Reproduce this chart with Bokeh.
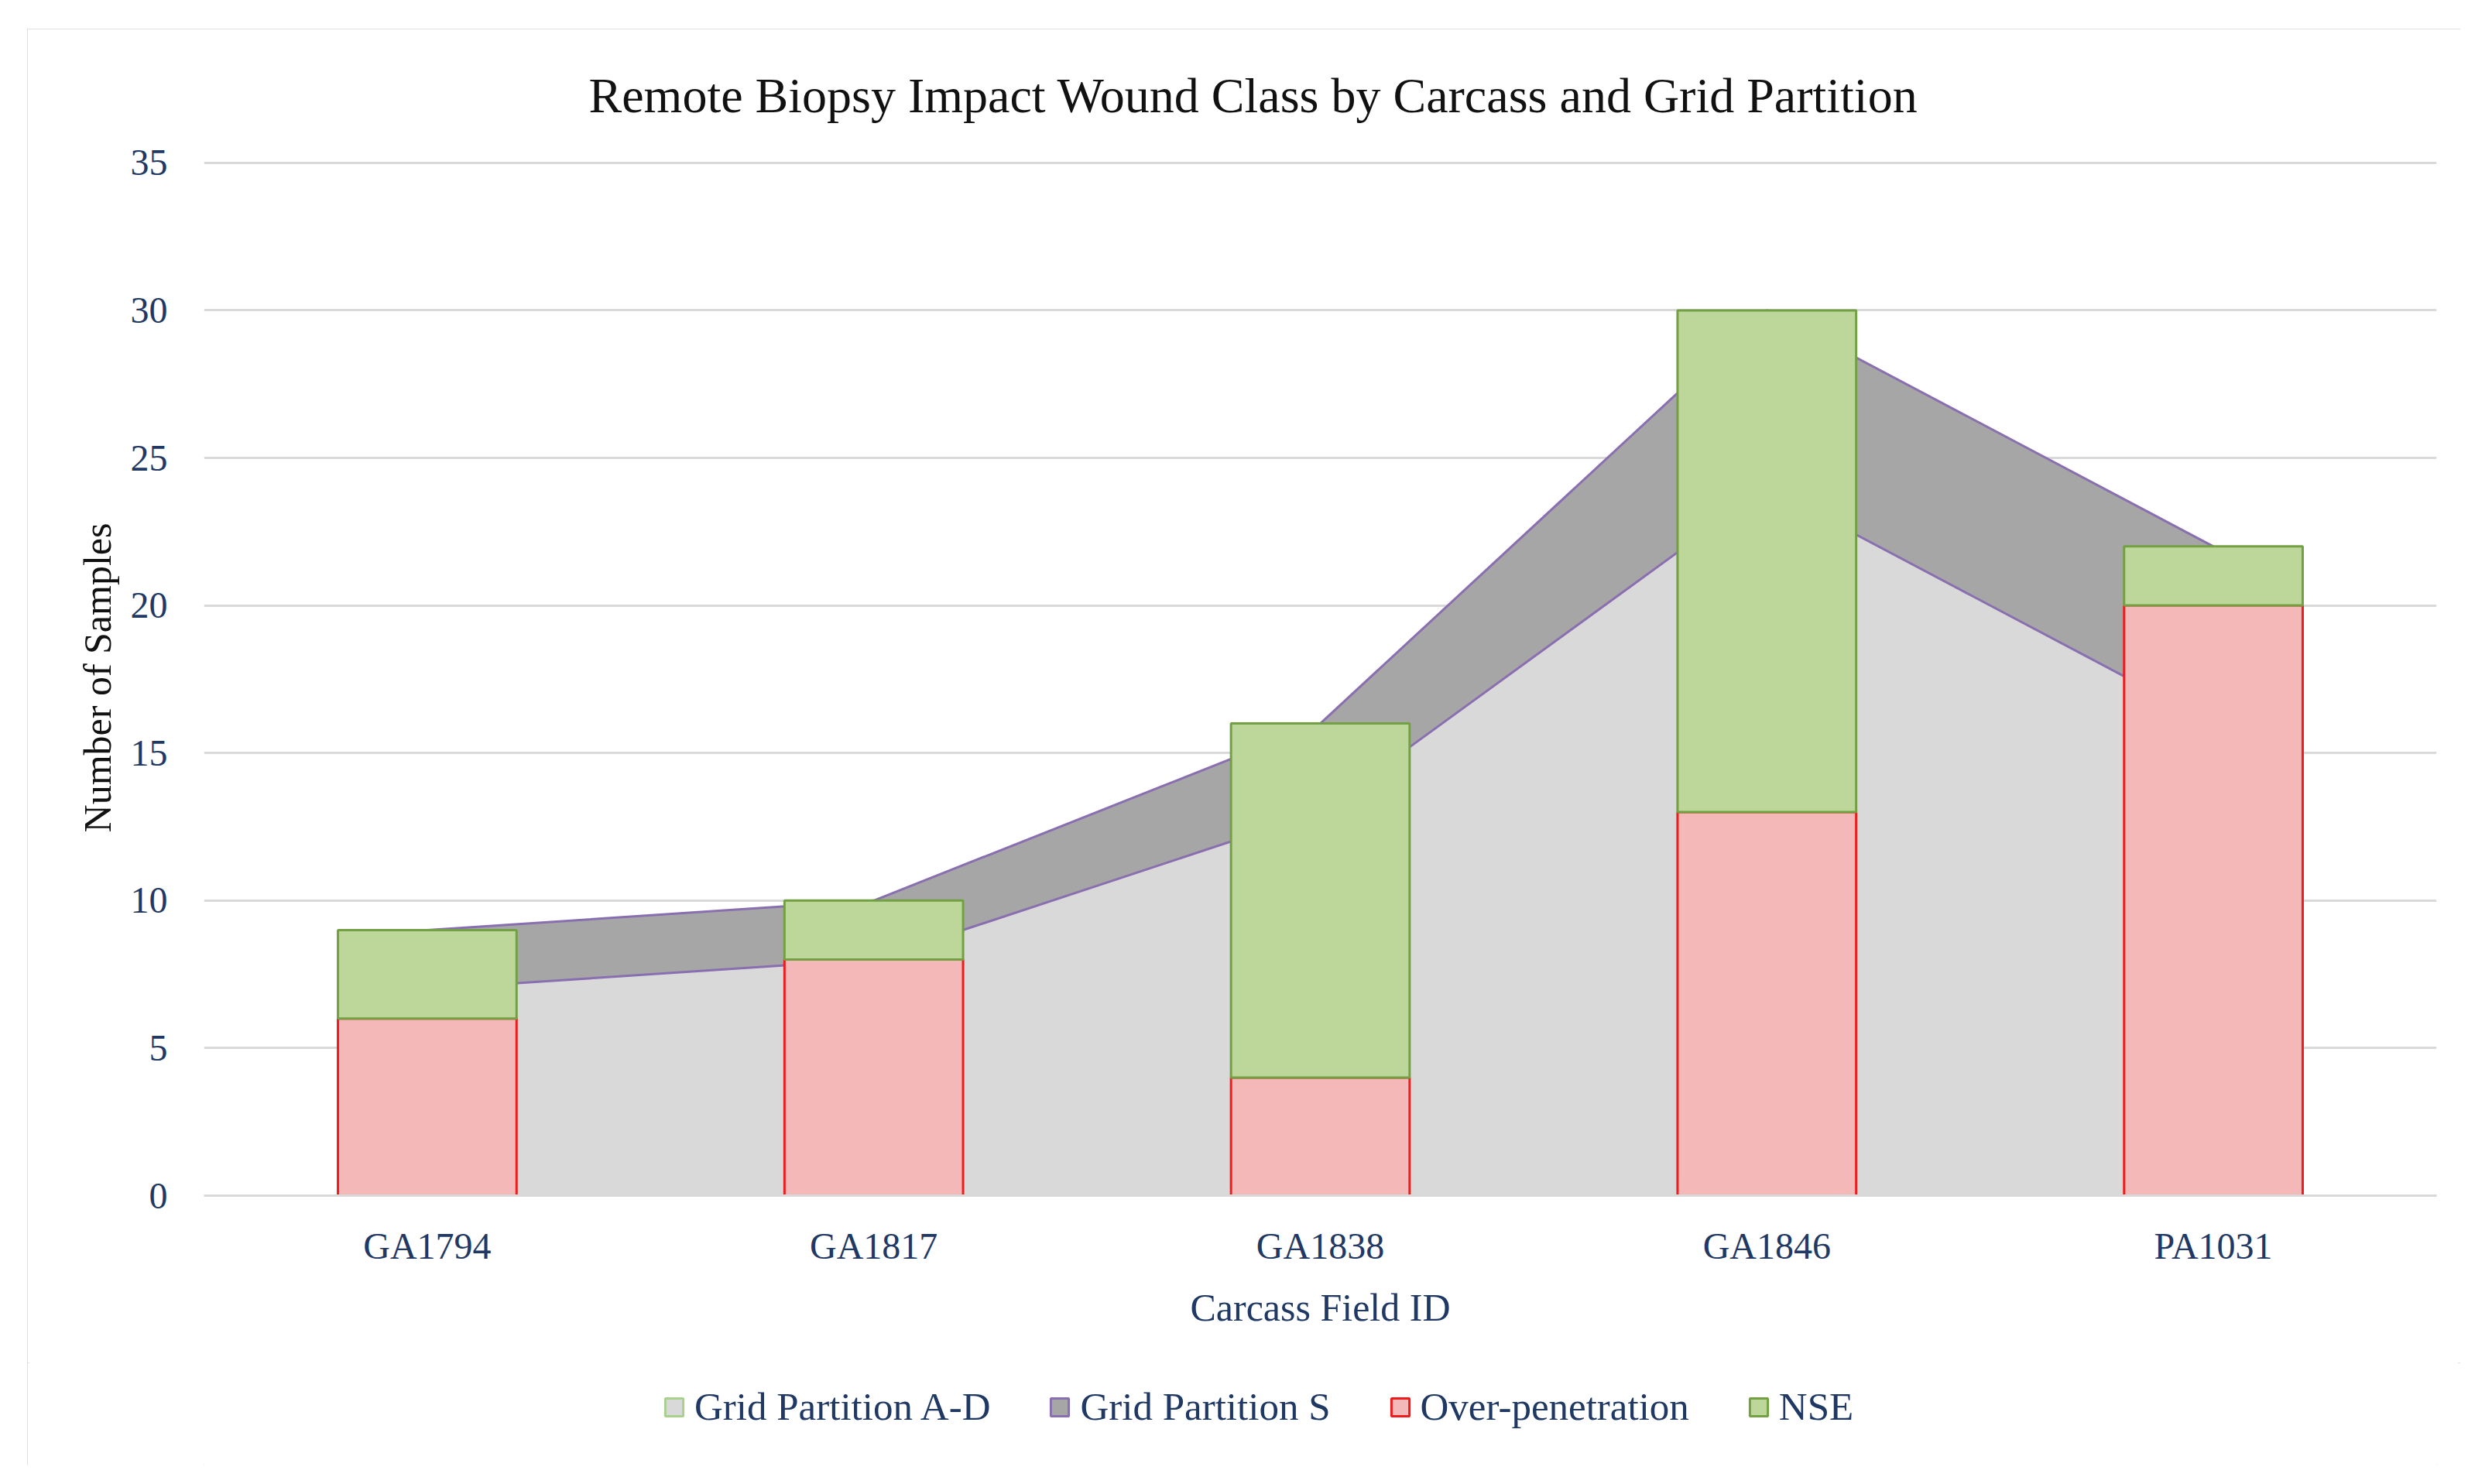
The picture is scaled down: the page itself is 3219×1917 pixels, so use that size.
from bokeh.plotting import figure
from bokeh.layouts import column
from bokeh.models import (FactorRange, Range1d, Legend, LegendItem,
                          FixedTicker, ColumnDataSource)
from bokeh.embed import file_html
from bokeh.resources import INLINE

# ---- data ----
categories = ["GA1794", "GA1817", "GA1838", "GA1846", "PA1031"]
grid_partition_ad = [7, 8, 13, 24, 16]
grid_partition_s = [2, 2, 3, 6, 6]
over_penetration = [6, 8, 4, 13, 20]
nse = [3, 2, 12, 17, 2]
y_ticks = [0, 5, 10, 15, 20, 25, 30, 35]

title_text = "Remote Biopsy Impact Wound Class by Carcass and Grid Partition"
x_label = "Carcass Field ID"
y_label = "Number of Samples"
series_names = ["Grid Partition A-D", "Grid Partition S", "Over-penetration", "NSE"]

# ---- styles ----
NAVY = "#1F3864"
SERIF = "Liberation Serif"
C_AD, C_S = "#D9D9D9", "#A6A6A6"
C_PINK, C_RED = "#F4B8B8", "#EE1C1C"
C_GREEN, C_DGREEN = "#BDD79B", "#72A043"
C_PURPLE = "#8A6FB0"
GRID = "#D9D9D9"

src = ColumnDataSource(dict(
    x=categories,
    ad=grid_partition_ad,
    s=grid_partition_s,
    over=over_penetration,
    nse=nse,
    ad_top=grid_partition_ad,
    s_top=[a + b for a, b in zip(grid_partition_ad, grid_partition_s)],
))

p = figure(x_range=FactorRange(*categories, range_padding=0),
           y_range=Range1d(0, 35.1),
           width=3143, height=1723,
           output_backend="svg", toolbar_location=None,
           min_border_left=228, min_border_right=31,
           min_border_top=168, min_border_bottom=216)
p.outline_line_color = None
p.background_fill_color = "white"
p.border_fill_color = "white"

# title
p.title.text = title_text
p.title.align = "left"
p.title.offset = 497
p.title.standoff = 96
p.title.text_font = SERIF
p.title.text_font_size = "64px"
p.title.text_font_style = "normal"
p.title.text_color = "#111111"

# stacked areas
p.varea_stack(["ad", "s"], x="x", source=src, fill_color=[C_AD, C_S])
p.line("x", "ad_top", source=src, line_color=C_PURPLE, line_width=3)
p.line("x", "s_top", source=src, line_color=C_PURPLE, line_width=3)

# stacked bars
p.vbar_stack(["over", "nse"], x="x", width=0.4, source=src,
             fill_color=[C_PINK, C_GREEN], line_color=[C_RED, C_DGREEN],
             line_width=3)

# axes
p.yaxis.ticker = FixedTicker(ticks=y_ticks)
p.yaxis.axis_line_color = None
p.yaxis.major_tick_line_color = None
p.yaxis.minor_tick_line_color = None
p.yaxis.major_label_text_font = SERIF
p.yaxis.major_label_text_font_size = "48px"
p.yaxis.major_label_text_color = NAVY
p.yaxis.major_label_standoff = 41
p.yaxis.axis_label = y_label
p.yaxis.axis_label_text_font = SERIF
p.yaxis.axis_label_text_font_size = "50px"
p.yaxis.axis_label_text_font_style = "normal"
p.yaxis.axis_label_text_color = "#111111"
p.yaxis.axis_label_standoff = 12

p.xaxis.axis_line_color = GRID
p.xaxis.axis_line_width = 3
p.xaxis.major_tick_line_color = None
p.xaxis.minor_tick_line_color = None
p.xaxis.major_label_text_font = SERIF
p.xaxis.major_label_text_font_size = "48px"
p.xaxis.major_label_text_color = NAVY
p.xaxis.major_label_standoff = 32
p.xaxis.axis_label = x_label
p.xaxis.axis_label_text_font = SERIF
p.xaxis.axis_label_text_font_size = "50px"
p.xaxis.axis_label_text_font_style = "normal"
p.xaxis.axis_label_text_color = NAVY
p.xaxis.axis_label_standoff = 22

p.xgrid.grid_line_color = None
p.ygrid.grid_line_color = GRID
p.ygrid.grid_line_width = 3

# ---- legend strip below the chart ----
pl = figure(x_range=Range1d(0, 1), y_range=Range1d(0, 1),
            width=3143, height=133, output_backend="svg",
            toolbar_location=None, min_border=0)
pl.axis.visible = False
pl.grid.visible = False
pl.outline_line_color = None
pl.background_fill_color = "white"
pl.border_fill_color = "white"

# swatch renderers: zero-size bars (only their legend swatches show)
lg_ad = pl.vbar(x=[0.5], top=[0.5], bottom=[0.5], width=0, fill_color=C_AD, line_color="#A9D18E", line_width=3)
lg_s = pl.vbar(x=[0.5], top=[0.5], bottom=[0.5], width=0, fill_color=C_S, line_color=C_PURPLE, line_width=3)
lg_o = pl.vbar(x=[0.5], top=[0.5], bottom=[0.5], width=0, fill_color=C_PINK, line_color=C_RED, line_width=3)
lg_n = pl.vbar(x=[0.5], top=[0.5], bottom=[0.5], width=0, fill_color=C_GREEN, line_color=C_DGREEN, line_width=3)

legend = Legend(items=[LegendItem(label=series_names[0], renderers=[lg_ad]),
                       LegendItem(label=series_names[1], renderers=[lg_s]),
                       LegendItem(label=series_names[2], renderers=[lg_o]),
                       LegendItem(label=series_names[3], renderers=[lg_n])],
                orientation="horizontal", location=(593, 47),
                border_line_alpha=0, background_fill_alpha=0,
                padding=0, margin=0, spacing=75,
                glyph_width=29, glyph_height=29, label_standoff=12,
                label_text_font=SERIF, label_text_font_size="51px",
                label_text_color=NAVY, label_height=29)
pl.add_layout(legend)

layout = column(p, pl, spacing=0)
layout.margin = (37, 0, 0, 35)
layout.styles = {"outline": "3px solid #D9D9D9", "outline-offset": "-3px"}

open("out.html", "w").write(file_html(layout, INLINE))
